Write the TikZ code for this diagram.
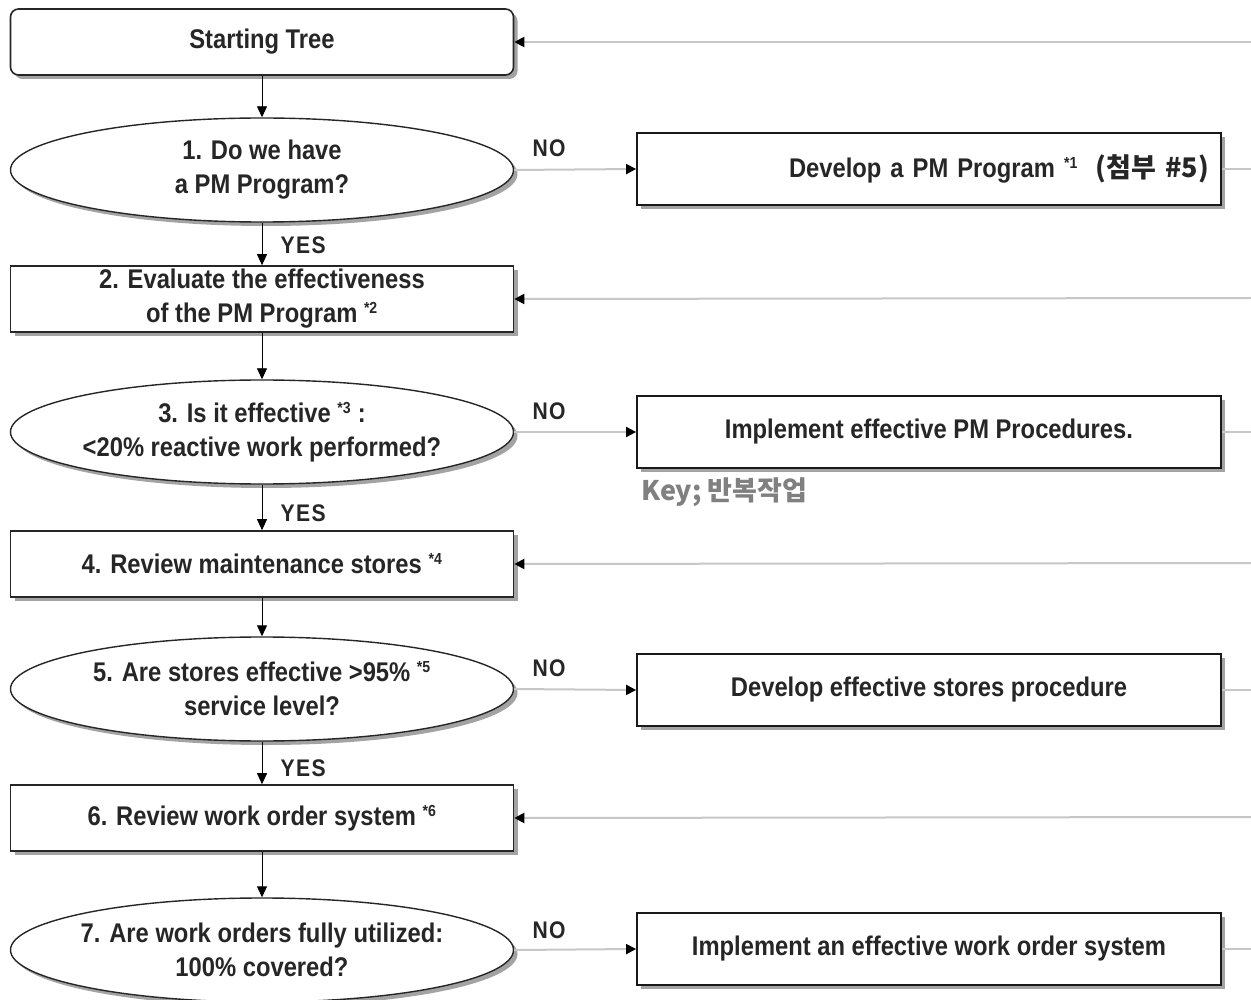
\documentclass[tikz,border=0pt]{standalone}
\usepackage{fontspec}
\setmainfont{Liberation Sans}[FakeStretch=0.88]
\newfontfamily\kr{Noto Sans CJK KR}
\usetikzlibrary{shapes.geometric,arrows.meta,shadows}
\newcommand\supnote[1]{\textsuperscript{\fontsize{16}{16}\selectfont #1}}
\begin{document}
\begin{tikzpicture}[x=1pt,y=-1pt,
  every node/.style={font=\fontsize{27}{34}\selectfont\bfseries, text=black!85},
  shad/.style={drop shadow={shadow xshift=4pt,shadow yshift=-4pt,fill=black!45,opacity=0.8}},
  stepbox/.style={draw=black!85,line width=1.6pt,fill=white,shad,minimum width=503pt,minimum height=66pt,inner sep=0pt,align=center},
  startbox/.style={stepbox,rounded corners=8pt},
  question/.style={ellipse,draw=black!85,line width=1.4pt,fill=white,shad,minimum width=503pt,minimum height=104pt,inner xsep=-80pt,inner ysep=-20pt,align=center},
  actbox/.style={draw=black!90,line width=1.8pt,fill=white,shad,minimum width=584pt,minimum height=72pt,inner sep=0pt,align=center},
  down/.style={draw=black,line width=0.9pt,-{Triangle[length=11pt,width=10pt]}},
  grey/.style={draw=black!22,line width=2pt},
  greyarrow/.style={grey,-{Triangle[length=10pt,width=10pt,color=black,fill=black]}},
  lab/.style={font=\fontsize{24}{26}\selectfont\bfseries\addfontfeature{LetterSpace=6}}]
\useasboundingbox (0,0) rectangle (1251,1000);
\fill[white] (0,0) rectangle (1251,1000);

\node[startbox] (s0) at (262,42) {Starting Tree};
\node[question] (q1) at (262,170) {1. Do we have\\a PM Program?};
\node[stepbox] (b2) at (262,299) {2. Evaluate the effectiveness\\of the PM Program \supnote{*2}};
\node[question] (q3) at (262,432) {3. Is it effective \supnote{*3} :\\{<}20\% reactive work performed?};
\node[stepbox] (b4) at (262,564) {4. Review maintenance stores \supnote{*4}};
\node[question] (q5) at (262,689) {5. Are stores effective {>}95\% \supnote{*5}\\service level?};
\node[stepbox] (b6) at (262,818) {6. Review work order system \supnote{*6}};
\node[question] (q7) at (262,950) {7. Are work orders fully utilized:\\100\% covered?};

\node[actbox,text width=560pt,align=right] (r1) at (929,169) {Develop a PM Program \supnote{*1}\ \ {\kr(첨부 \#5)}};
\node[actbox] (r3) at (929,432) {Implement effective PM Procedures.};
\node[actbox] (r5) at (929,690) {Develop effective stores procedure};
\node[actbox] (r7) at (929,949) {Implement an effective work order system};

\node[font=\kr\fontsize{27}{30}\selectfont\bfseries,text=black!50,anchor=west] (key) at (638,492) {Key; 반복작업};

% coordinates at right edge
\coordinate (e0) at (1251,42);
\coordinate (e2) at (1251,298);
\coordinate (e4) at (1251,563);
\coordinate (e6) at (1251,817);
\coordinate (x1) at (1251,169);
\coordinate (x3) at (1251,432);
\coordinate (x5) at (1251,690);
\coordinate (x7) at (1251,949);

% main flow
\draw[down] (s0.south) -- (q1.north);
\draw[down] (q1.south) -- (b2.north);
\draw[down] (b2.south) -- (q3.north);
\draw[down] (q3.south) -- (b4.north);
\draw[down] (b4.south) -- (q5.north);
\draw[down] (q5.south) -- (b6.north);
\draw[down] (b6.south) -- (q7.north);

% YES labels
\node[lab,anchor=west] (y1) at (277,245) {YES};
\node[lab,anchor=west] (y3) at (277,513) {YES};
\node[lab,anchor=west] (y5) at (277,768) {YES};

% NO branches
\draw[greyarrow] (q1.east) -- (r1.west);
\draw[greyarrow] (q3.east) -- (r3.west);
\draw[greyarrow] (q5.east) -- (r5.west);
\draw[greyarrow] (q7.east) -- (r7.west);
\node[lab,anchor=west] (n1) at (529,148) {NO};
\node[lab,anchor=west] (n3) at (529,411) {NO};
\node[lab,anchor=west] (n5) at (529,668) {NO};
\node[lab,anchor=west] (n7) at (529,930) {NO};

% exits of action boxes
\draw[grey] (r1.east) -- (x1);
\draw[grey] (r3.east) -- (x3);
\draw[grey] (r5.east) -- (x5);
\draw[grey] (r7.east) -- (x7);

% returns
\draw[greyarrow] (e0) -- (s0.east);
\draw[greyarrow] (e2) -- (b2.east);
\draw[greyarrow] (e4) -- (b4.east);
\draw[greyarrow] (e6) -- (b6.east);
\end{tikzpicture}
\end{document}
